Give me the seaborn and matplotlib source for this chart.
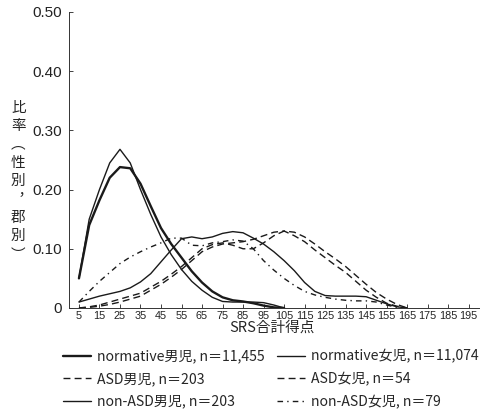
import matplotlib
matplotlib.use("Agg")
import matplotlib.pyplot as plt
import pandas as pd
import seaborn as sb

# SRS total score grid (every 5 points)
scores = list(range(5, 200, 5))

normative_boys = [0.05, 0.14, 0.182, 0.22, 0.238, 0.236, 0.21, 0.172, 0.135, 0.108, 0.085,
                  0.062, 0.043, 0.028, 0.018, 0.013, 0.011, 0.008, 0.004, 0.001, 0.0]
normative_girls = [0.05, 0.15, 0.2, 0.245, 0.268, 0.245, 0.2, 0.158, 0.12, 0.09, 0.065,
                   0.045, 0.03, 0.018, 0.011, 0.01, 0.01, 0.01, 0.009, 0.005, 0.0]
asd_boys = [0.0, 0.001, 0.003, 0.006, 0.01, 0.015, 0.02, 0.03, 0.04, 0.052, 0.065, 0.08,
            0.095, 0.103, 0.108, 0.11, 0.112, 0.116, 0.122, 0.128, 0.13, 0.122, 0.112,
            0.098, 0.085, 0.072, 0.06, 0.045, 0.03, 0.018, 0.008, 0.003, 0.0]
asd_girls = [0.0, 0.002, 0.005, 0.01, 0.015, 0.02, 0.025, 0.035, 0.045, 0.057, 0.07, 0.085,
             0.1, 0.107, 0.11, 0.106, 0.1, 0.1, 0.11, 0.122, 0.13, 0.128, 0.12, 0.108, 0.095,
             0.083, 0.07, 0.055, 0.04, 0.026, 0.015, 0.006, 0.0]
non_asd_boys = [0.01, 0.015, 0.02, 0.024, 0.028, 0.034, 0.044, 0.058, 0.078, 0.098, 0.117,
                0.12, 0.117, 0.12, 0.126, 0.129, 0.127, 0.118, 0.108, 0.095, 0.08, 0.063,
                0.043, 0.028, 0.021, 0.02, 0.02, 0.02, 0.019, 0.013, 0.007, 0.002, 0.0]
non_asd_girls = [0.01, 0.028, 0.045, 0.06, 0.075, 0.086, 0.095, 0.103, 0.11, 0.118, 0.118,
                 0.106, 0.105, 0.11, 0.112, 0.115, 0.113, 0.1, 0.08, 0.064, 0.05, 0.038,
                 0.028, 0.022, 0.018, 0.015, 0.013, 0.012, 0.012, 0.01, 0.005, 0.001, 0.0]

labels = ["normative男児, n＝11,455", "normative女児, n＝11,074",
          "ASD男児, n＝203", "ASD女児, n＝54",
          "non-ASD男児, n＝203", "non-ASD女児, n＝79"]
series = [normative_boys, normative_girls, asd_boys, asd_girls, non_asd_boys, non_asd_girls]
styles = [("-", 1.7), ("-", 1.0), ((0, (5, 3)), 1.0), ((0, (5, 3)), 1.0),
          ("-", 1.0), ((0, (4, 3, 1, 3)), 1.0)]

xticks = list(range(5, 200, 10))
yticks = [0, 0.10, 0.20, 0.30, 0.40, 0.50]
ytick_labels = ["0", "0.10", "0.20", "0.30", "0.40", "0.50"]

frames = []
for name, vals in zip(labels, series):
    frames.append(pd.DataFrame({"score": scores[:len(vals)], "ratio": vals, "group": name}))
df = pd.concat(frames, ignore_index=True)

sb.set_style("ticks")
plt.rcParams["font.family"] = ["Liberation Sans", "Noto Sans CJK JP", "DejaVu Sans"]
cjk = ["Noto Sans CJK JP", "DejaVu Sans"]

fig = plt.figure(figsize=(4.81, 4.09), dpi=100)
ax = fig.add_axes([0.1428, 0.247, 0.853, 0.7237])

lines = []
for name, (ls, lw) in zip(labels, styles):
    sb.lineplot(data=df[df.group == name], x="score", y="ratio", ax=ax,
                color="#1a1a1a", linewidth=lw, linestyle=ls, legend=False)
    lines.append(ax.get_lines()[-1])

ax.set_xlim(0, 200)
ax.set_ylim(0, 0.5)
ax.set_xticks(xticks)
ax.set_xticklabels([str(t) for t in xticks], fontsize=7.8)
ax.set_yticks(yticks)
ax.set_yticklabels(ytick_labels, fontsize=11)
ax.tick_params(direction="in", length=3, width=0.6, colors="#222222")
ax.tick_params(axis="x", pad=2)
ax.tick_params(axis="y", pad=5)
for side in ["top", "right"]:
    ax.spines[side].set_visible(False)
for side in ["left", "bottom"]:
    ax.spines[side].set_linewidth(0.7)
    ax.spines[side].set_color("#333333")

ax.set_xlabel("")
ax.set_ylabel("")
fig.text(0.566, 0.2, "SRS合計得点", ha="center", va="center", fontsize=10.5, family=cjk)
fig.text(0.038, 0.557, "比\n率\n︵\n性\n別\n︐\n郡\n別\n︶", ha="center", va="center",
         fontsize=10.5, linespacing=1.4, family=cjk)

order = [0, 2, 4, 1, 3, 5]
leg = fig.legend([lines[i] for i in order], [labels[i] for i in order], ncol=2,
                 loc="upper left", bbox_to_anchor=(0.125, 0.152), frameon=False,
                 handlelength=2.0, handletextpad=0.4, columnspacing=0.9,
                 labelspacing=0.6, borderaxespad=0, borderpad=0.2,
                 prop={"family": cjk, "size": 10.1})

fig.savefig("out.png", dpi=100, facecolor="white")
